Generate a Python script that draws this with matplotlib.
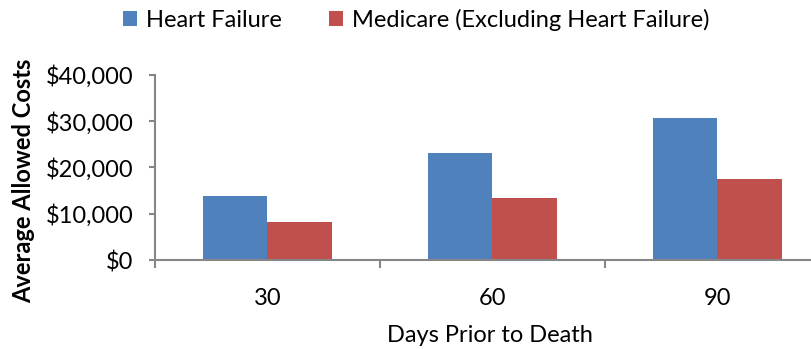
import numpy as np
import matplotlib.pyplot as plt
from matplotlib.ticker import FuncFormatter

plt.rcParams['font.family'] = ['Lato', 'DejaVu Sans']

days = ['30', '60', '90']
heart_failure = [13900, 23200, 30700]
medicare_excl_hf = [8250, 13300, 17600]

blue = '#4F81BD'
red = '#C0504D'
axis_grey = '#868686'

fig = plt.figure(figsize=(8.12, 3.49), dpi=100)
ax = fig.add_axes([155 / 812, 1 - 260 / 349, (830 - 155) / 812, (260 - 75) / 349])

x = np.arange(len(days))
width = 0.285
ax.bar(x - width / 2, heart_failure, width, color=blue, label='Heart Failure')
ax.bar(x + width / 2, medicare_excl_hf, width, color=red,
       label='Medicare (Excluding Heart Failure)')

ax.set_xlim(-0.5, 2.5)
ax.set_ylim(0, 40000)
ax.set_yticks(np.arange(0, 40001, 10000))
ax.yaxis.set_major_formatter(FuncFormatter(lambda v, p: '${:,.0f}'.format(v)))

# category labels in the middle, tick marks on the boundaries
ax.set_xticks(x)
ax.set_xticklabels(days)
ax.set_xticks(np.arange(-0.5, 2.6, 1), minor=True)
ax.tick_params(axis='x', which='major', length=0, pad=20, labelsize=17)
ax.tick_params(axis='x', which='minor', length=6, width=1.5, color=axis_grey, direction='out')
ax.tick_params(axis='y', length=4.5, width=1.5, color=axis_grey, direction='out', labelsize=17, pad=11)

for s in ['top', 'right']:
    ax.spines[s].set_visible(False)
for s in ['left', 'bottom']:
    ax.spines[s].set_color(axis_grey)
    ax.spines[s].set_linewidth(1.5)

fig.text(490 / 812, 1 - 336 / 349, 'Days Prior to Death', ha='center', va='center', fontsize=17)
fig.text(24 / 812, 1 - 181 / 349, 'Average Allowed Costs', ha='center', va='center',
         rotation=90, fontsize=17, fontweight='bold')

fig.legend(loc='center', bbox_to_anchor=(416 / 812, 1 - 20 / 349), ncol=2, frameon=False,
           fontsize=17, handlelength=0.62, handleheight=0.62, handletextpad=0.35,
           columnspacing=2.0)

fig.savefig('out.png', dpi=100)
